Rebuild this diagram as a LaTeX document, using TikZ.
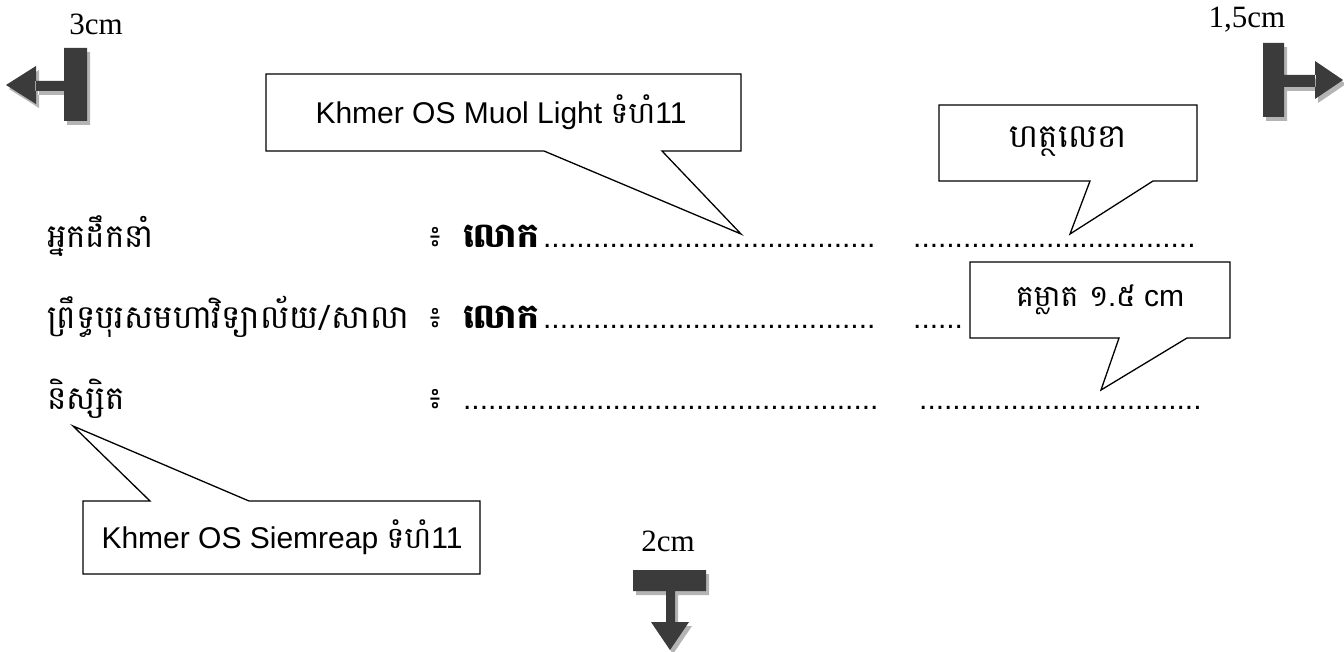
\documentclass[tikz,border=0pt]{standalone}
\usepackage{fontspec}
\setmainfont{Liberation Serif}
\setsansfont{Liberation Sans}
\newfontfamily\khmer[Script=Khmer]{Battambang}
\definecolor{arrowdark}{HTML}{3B3B3B}
\definecolor{arrowshade}{HTML}{B4B4B4}
\newcommand\dotline[1]{\hbox to #1{\leaders\hbox to 8.3pt{\hss.\hss}\hfill}}
\tikzset{
  bubble/.style={draw=black, fill=white, line width=1.3pt, line join=miter},
  bubbletext/.style={font=\fontsize{30}{34}\sffamily},
  rowtext/.style={anchor=base west, inner sep=0pt, font=\fontsize{32.5}{36}\khmer},
  boldtext/.style={anchor=base west, inner sep=0pt, font=\fontsize{34}{38}\khmer\bfseries},
  dotstext/.style={anchor=base west, inner sep=0pt, font=\fontsize{30}{34}\sffamily},
  margintext/.style={font=\fontsize{31}{35}\rmfamily}
}
\begin{document}
\begin{tikzpicture}[x=1pt, y=-1pt]
        \useasboundingbox (0,0) rectangle (1344,652);
        
        %the margin arrows
        
        \fill [arrowshade, shift={(3,4)}] (64,48) rectangle (87,121) (35,81) rectangle (64,91) (6,85) -- (36,66) -- (36,104) -- cycle;
        \fill [arrowdark] (64,48) rectangle (87,121) (35,81) rectangle (64,91) (6,85) -- (36,66) -- (36,104) -- cycle;
        \node [margintext] (leftmargin) at (96,24) {3cm};
        
        \fill [arrowshade, shift={(3,4)}] (1263,43) rectangle (1284,117) (1284,75) rectangle (1316,87) (1315,61) -- (1343,80) -- (1315,99) -- cycle;
        \fill [arrowdark] (1263,43) rectangle (1284,117) (1284,75) rectangle (1316,87) (1315,61) -- (1343,80) -- (1315,99) -- cycle;
        \node [margintext] (rightmargin) at (1247,20) {1,5cm};
        
        \fill [arrowshade, shift={(3,4)}] (633,570) rectangle (706,591) (666,591) rectangle (675,622) (651,622) -- (689,622) -- (670,650) -- cycle;
        \fill [arrowdark] (633,570) rectangle (706,591) (666,591) rectangle (675,622) (651,622) -- (689,622) -- (670,650) -- cycle;
        \node [margintext] (bottommargin) at (668,541) {2cm};
        
        %the signature rows
        
        \node [rowtext] (leader) at (47,248) {អ្នកដឹកនាំ};
        \node [rowtext] (colonA) at (427,248) {៖};
        \node [boldtext] (lokA) at (463,248) {លោក};
        \node [dotstext] (dotsA) at (543,248) {\dotline{332pt}};
        \node [dotstext] (signA) at (913,248) {\dotline{284pt}};
        
        \node [rowtext] (dean) at (47,328) {ព្រឹទ្ធបុរសមហាវិទ្យាល័យ/សាលា};
        \node [rowtext] (colonB) at (427,328) {៖};
        \node [boldtext] (lokB) at (463,328) {លោក};
        \node [dotstext] (dotsB) at (543,328) {\dotline{332pt}};
        \node [dotstext] (signB) at (913,328) {\dotline{58pt}};
        
        \node [rowtext] (student) at (47,409) {និស្សិត};
        \node [rowtext] (colonC) at (427,409) {៖};
        \node [dotstext] (dotsC) at (463,409) {\dotline{419pt}};
        \node [dotstext] (signC) at (919,409) {\dotline{284pt}};
        
        %the callouts
        
        \draw [bubble] (266,74) -- (741,74) -- (741,151) -- (662,151) -- (741,234) -- (544,151) -- (266,151) -- cycle;
        \node [bubbletext] (muol) at (501,112) {Khmer OS Muol Light {\khmer ទំហំ}11};
        
        \draw [bubble] (939,105) -- (1197,105) -- (1197,181) -- (1153,181) -- (1070,234) -- (1090,181) -- (939,181) -- cycle;
        \node [bubbletext, font=\fontsize{32.5}{36}\khmer] (signature) at (1068,142) {ហត្ថលេខា};
        
        \draw [bubble] (970,262) -- (1230,262) -- (1230,338) -- (1187,338) -- (1101,390) -- (1119,338) -- (970,338) -- cycle;
        \node [bubbletext] (spacing) at (1100,300) {{\khmer គម្លាត ១.៥} cm};
        
        \draw [bubble] (83,501) -- (150,501) -- (73,426) -- (249,501) -- (480,501) -- (480,574) -- (83,574) -- cycle;
        \node [bubbletext] (siemreap) at (282,537) {Khmer OS Siemreap {\khmer ទំហំ}11};
        
    \end{tikzpicture}
\end{document}
